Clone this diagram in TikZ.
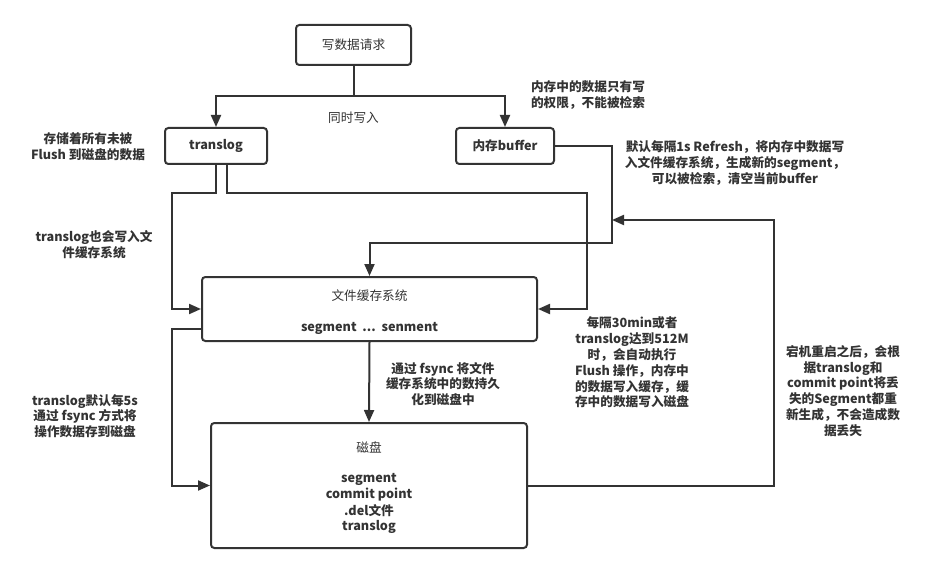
\documentclass[tikz,border=0pt]{standalone}
\usepackage{fontspec}
\setmainfont{Noto Sans CJK SC}
\usetikzlibrary{arrows.meta,calc}
\tikzset{
  box/.style={draw=black!80, line width=1.5pt, rounded corners=2.5pt, inner sep=0pt},
  wire/.style={draw=black!80, line width=1.5pt},
  link/.style={wire, -{Triangle[length=9pt,width=7.5pt]}},
  note/.style={align=center, font=\fontsize{9.5}{11.85}\selectfont\bfseries},
}
\begin{document}
\begin{tikzpicture}[x=0.75pt, y=-0.75pt, every node/.style={text=black!80, font=\fontsize{9.5}{11.85}\selectfont}]
\useasboundingbox (0,0) rectangle (928,574);
% boxes
\node[box, minimum width=86.25pt, minimum height=30pt] (req) at (353.5,45) {写数据请求};
\node[box, minimum width=76.5pt, minimum height=27pt, font=\fontsize{9.5}{11.85}\selectfont\bfseries] (tlog) at (216,146) {translog};
\node[box, minimum width=73.5pt, minimum height=27pt, font=\fontsize{9.5}{11.85}\selectfont\bfseries] (buf) at (505,146) {内存buffer};
\node[box, minimum width=251.25pt, minimum height=48pt] (cache) at (369.5,309) {};
\node (cachetitle) at (369.5,296) {文件缓存系统}; \node[note] (cacheseg) at (369.5,328) {segment\ \ ...\ \ senment};
\node[box, minimum width=237pt, minimum height=93.75pt] (disk) at (369,485.5) {};
\node (disktitle) at (369,448) {磁盘};
\foreach \y/\txt in {479/segment,495/commit point,511/.del文件,527/translog} \node[note] (disk-\y) at (369,\y) {\txt};
% rails
\coordinate (fork) at (353.5,96); \coordinate (westrail) at (172,193); \coordinate (eastrail) at (587,193);
\coordinate (refresh) at (612,243); \coordinate (recover) at (774,220);
% connectors
\draw[wire] (req.south) -- (fork);
\draw[link] (fork) -| (tlog.north); \draw[link] (fork) -| (buf.north);
\draw[link] (tlog.south) |- (westrail) |- (cache.west);
\draw[link] ($(tlog.south)+(11,0)$) |- (eastrail) |- (cache.east);
\draw[link] (buf.east) -| (refresh) -| (cache.north);
\draw[link] (cache.south) -- (disk.north);
\draw[link] ($(cache.south west)+(0,-13)$) -| (westrail |- disk.west) -- (disk.west);
\draw[link] (disk.east) -| (recover) -- (recover -| refresh);
% labels
\node (both) at (353.5,118) {同时写入};
\node[note] (tlognote) at (88,147) {存储着所有未被\\Flush 到磁盘的数据};
\node[note] (bufnote) at (588,95) {内存中的数据只有写\\的权限，不能被检索};
\node[note] (refreshnote) at (735,163) {默认每隔1s Refresh，将内存中数据写\\入文件缓存系统，生成新的segment，\\可以被检索，清空当前buffer};
\node[note] (tlogcache) at (94,244.5) {translog也会写入文\\件缓存系统};
\node[note] (fsyncnote) at (443,384) {通过 fsync 将文件\\缓存系统中的数持久\\化到磁盘中};
\node[note] (flushnote) at (632,362.5) {每隔30min或者\\translog达到512M\\时，会自动执行\\Flush 操作，内存中\\的数据写入缓存，缓\\存中的数据写入磁盘};
\node[note] (recovernote) at (843,391) {宕机重启之后，会根\\据translog和\\commit point将丢\\失的Segment都重\\新生成，不会造成数\\据丢失};
\node[note] (tlogdisk) at (85,416) {translog默认每5s\\通过 fsync 方式将\\操作数据存到磁盘};
\end{tikzpicture}
\end{document}
